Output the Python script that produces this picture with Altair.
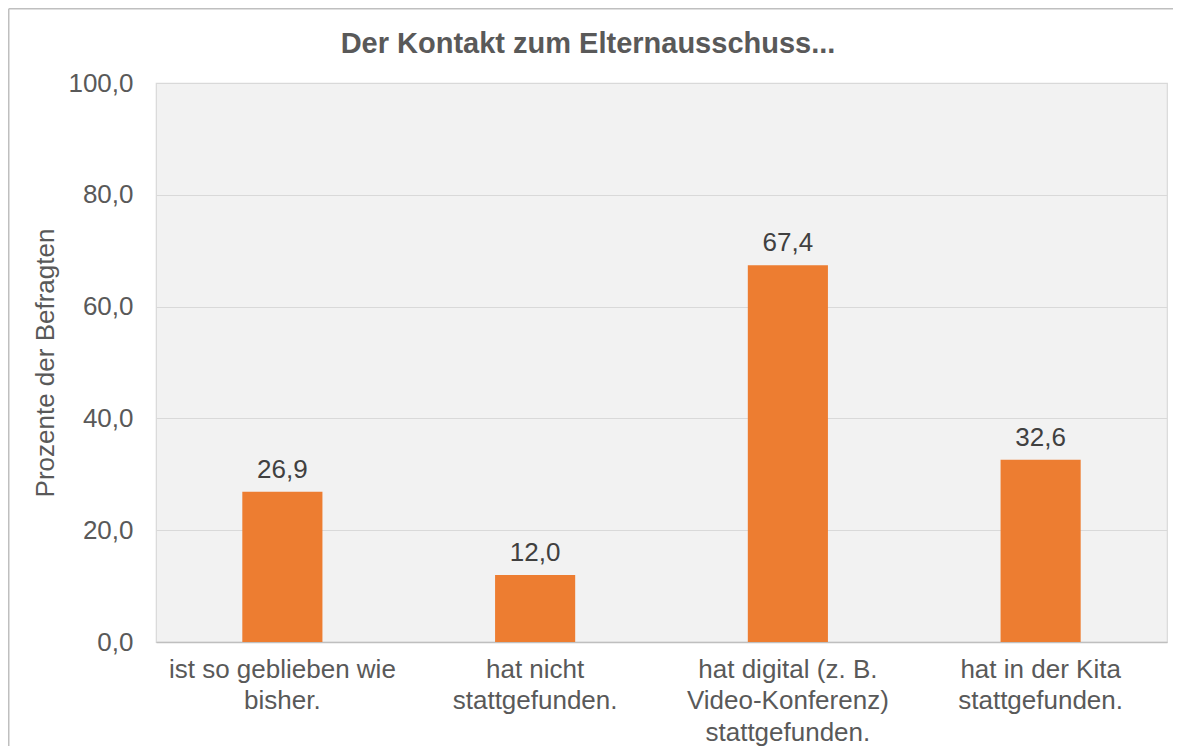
import altair as alt
import pandas as pd

# --- data ---
categories = [
    "ist so geblieben wie|bisher.",
    "hat nicht|stattgefunden.",
    "hat digital (z. B.|Video-Konferenz)|stattgefunden.",
    "hat in der Kita|stattgefunden.",
]
values = [26.9, 12.0, 67.4, 32.6]
y_ticks = [0, 20, 40, 60, 80, 100]

title_text = "Der Kontakt zum Elternausschuss..."
y_title = "Prozente der Befragten"

FONT = "Liberation Sans"
W, H = 1011, 559

df = pd.DataFrame({"kategorie": categories, "wert": values})

base = alt.Chart(df).encode(
    x=alt.X(
        "kategorie:N",
        sort=categories,
        title=None,
        scale=alt.Scale(paddingInner=0.683, paddingOuter=0.3415),
        axis=alt.Axis(
            labelExpr="split(datum.label, '|')",
            labelAngle=0,
            labelFont=FONT,
            labelFontSize=26,
            labelColor="#595959",
            labelPadding=14,
            labelLineHeight=31.5,
            labelLimit=400,
            ticks=False,
            domainColor="#bfbfbf",
            domainWidth=1.5,
            grid=False,
        ),
    ),
    y=alt.Y(
        "wert:Q",
        title=y_title,
        scale=alt.Scale(domain=[0, 100], nice=False),
        axis=alt.Axis(
            values=y_ticks,
            labelExpr="replace(format(datum.value, '.1f'), '.', ',')",
            labelFont=FONT,
            labelFontSize=26,
            labelColor="#595959",
            labelPadding=23,
            ticks=False,
            domain=False,
            grid=True,
            gridColor="#d9d9d9",
            gridWidth=1.2,
            titleFont=FONT,
            titleFontSize=26,
            titleFontWeight="normal",
            titleColor="#595959",
            titlePadding=9,
        ),
    ),
)

bars = base.mark_bar(color="#ED7D31")

labels = base.transform_calculate(
    txt="replace(format(datum.wert, '.1f'), '.', ',')"
).mark_text(
    font=FONT, fontSize=26, color="#404040", baseline="alphabetic", dy=-14
).encode(text="txt:N")

frame_df = pd.DataFrame({"titel": [title_text]})
title_mark = alt.Chart(frame_df).mark_text(
    font=FONT, fontSize=29, fontWeight="bold", color="#595959",
    align="center", baseline="alphabetic",
).encode(text="titel:N", x=alt.value(432), y=alt.value(-30))

top_rule = alt.Chart(frame_df).mark_rule(color="#bfbfbf", strokeWidth=1.5).encode(
    x=alt.value(-147.25), x2=alt.value(W + 6), y=alt.value(-74.25)
)
left_rule = alt.Chart(frame_df).mark_rule(color="#bfbfbf", strokeWidth=1.5).encode(
    x=alt.value(-147.25), y=alt.value(-74.25), y2=alt.value(H + 112)
)

chart = (
    alt.layer(bars, labels, title_mark, top_rule, left_rule)
    .properties(
        width=W,
        height=H,
        padding={"left": 148, "top": 75, "right": 6, "bottom": 104},
        autosize=alt.AutoSizeParams(type="none"),
        background="white",
    )
    .configure_view(fill="#f2f2f2", stroke="#d9d9d9", strokeWidth=1.2)
)

chart.save("out.html", embed_options={"renderer": "svg", "actions": False})
